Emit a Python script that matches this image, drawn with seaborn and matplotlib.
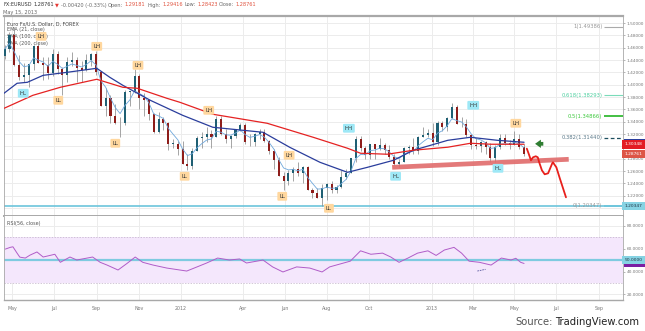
import matplotlib
matplotlib.use('Agg')
import matplotlib.pyplot as plt
import matplotlib.dates as mdates
from matplotlib.patches import Rectangle
import numpy as np
import pandas as pd
import seaborn as sns

W, H = 645, 331

# ---------------- data (weekly OHLC) ----------------
wk_open = [1.4470, 1.4580, 1.4806, 1.4318, 1.4125, 1.4155, 1.4335, 1.4635, 1.4345, 1.4315,
           1.4190, 1.4505, 1.4255, 1.4150, 1.4360, 1.4395, 1.4275, 1.4245, 1.4395, 1.4490,
           1.4205, 1.3655, 1.3790, 1.3500, 1.3385, 1.3375, 1.3875, 1.3890, 1.4140, 1.3790,
           1.3745, 1.3525, 1.3240, 1.3445, 1.3385, 1.3045, 1.3045, 1.2960, 1.2720, 1.2680,
           1.2930, 1.3130, 1.3155, 1.3195, 1.3150, 1.3450, 1.3200, 1.3120, 1.3175, 1.3270,
           1.3345, 1.3070, 1.3075, 1.3195, 1.3235, 1.3085, 1.2920, 1.2780, 1.2515, 1.2435,
           1.2570, 1.2640, 1.2570, 1.2665, 1.2290, 1.2245, 1.2160, 1.2320, 1.2385, 1.2290,
           1.2335, 1.2510, 1.2575, 1.2815, 1.3125, 1.2975, 1.2860, 1.3040, 1.2955, 1.3020,
           1.2940, 1.2830, 1.2710, 1.2750, 1.2975, 1.2985, 1.2925, 1.3160, 1.3180, 1.3220,
           1.3070, 1.3385, 1.3315, 1.3460, 1.3640, 1.3365, 1.3360, 1.3190, 1.3020, 1.3000,
           1.3075, 1.2985, 1.2820, 1.2995, 1.3130, 1.3055, 1.3030, 1.3115, 1.2995]
wk_high = [1.4650, 1.4860, 1.4940, 1.4475, 1.4345, 1.4335, 1.4640, 1.4695, 1.4450, 1.4450,
           1.4580, 1.4550, 1.4280, 1.4450, 1.4530, 1.4450, 1.4390, 1.4495, 1.4520, 1.4550,
           1.4215, 1.3950, 1.3830, 1.3690, 1.3480, 1.3915, 1.3890, 1.4247, 1.4170, 1.3870,
           1.3760, 1.3540, 1.3550, 1.3480, 1.3395, 1.3120, 1.3080, 1.3080, 1.2880, 1.2980,
           1.3170, 1.3235, 1.3320, 1.3270, 1.3487, 1.3485, 1.3290, 1.3180, 1.3290, 1.3385,
           1.3380, 1.3205, 1.3220, 1.3280, 1.3280, 1.3105, 1.2950, 1.2825, 1.2590, 1.2625,
           1.2670, 1.2747, 1.2690, 1.2690, 1.2320, 1.2330, 1.2390, 1.2405, 1.2440, 1.2380,
           1.2625, 1.2635, 1.2820, 1.3170, 1.3172, 1.3010, 1.3040, 1.3045, 1.3140, 1.3050,
           1.3015, 1.2880, 1.2790, 1.2985, 1.3015, 1.3130, 1.3165, 1.3308, 1.3280, 1.3385,
           1.3405, 1.3405, 1.3480, 1.3711, 1.3665, 1.3470, 1.3445, 1.3205, 1.3135, 1.3080,
           1.3090, 1.3050, 1.3015, 1.3205, 1.3202, 1.3110, 1.3242, 1.3195, 1.3035]
wk_low = [1.4420, 1.4530, 1.4310, 1.4080, 1.4050, 1.3968, 1.4232, 1.4345, 1.4070, 1.4100,
          1.4135, 1.4180, 1.3837, 1.4050, 1.4300, 1.4050, 1.4050, 1.4230, 1.4300, 1.4155,
          1.3650, 1.3495, 1.3385, 1.3360, 1.3145, 1.3350, 1.3655, 1.3860, 1.3610, 1.3485,
          1.3420, 1.3210, 1.3210, 1.3260, 1.2945, 1.2980, 1.2858, 1.2710, 1.2624, 1.2640,
          1.2925, 1.2975, 1.3065, 1.2975, 1.3145, 1.3180, 1.3050, 1.2975, 1.3140, 1.3250,
          1.3035, 1.3000, 1.3000, 1.3120, 1.3075, 1.2870, 1.2640, 1.2515, 1.2288, 1.2380,
          1.2440, 1.2520, 1.2405, 1.2290, 1.2160, 1.2160, 1.2042, 1.2135, 1.2250, 1.2240,
          1.2320, 1.2475, 1.2565, 1.2755, 1.2925, 1.2800, 1.2800, 1.2800, 1.2945, 1.2880,
          1.2800, 1.2700, 1.2661, 1.2745, 1.2880, 1.2875, 1.2880, 1.3145, 1.3155, 1.3000,
          1.3020, 1.3255, 1.3255, 1.3450, 1.3355, 1.3310, 1.3145, 1.2965, 1.2955, 1.2910,
          1.2880, 1.2750, 1.2745, 1.2955, 1.3015, 1.2955, 1.3025, 1.2955, 1.2842]
wk_close = [1.4580, 1.4806, 1.4318, 1.4125, 1.4155, 1.4335, 1.4635, 1.4345, 1.4315, 1.4190,
            1.4505, 1.4255, 1.4150, 1.4360, 1.4395, 1.4275, 1.4245, 1.4395, 1.4490, 1.4205,
            1.3655, 1.3790, 1.3500, 1.3385, 1.3375, 1.3875, 1.3890, 1.4140, 1.3790, 1.3745,
            1.3525, 1.3240, 1.3445, 1.3385, 1.3045, 1.3045, 1.2960, 1.2720, 1.2680, 1.2930,
            1.3130, 1.3155, 1.3195, 1.3150, 1.3450, 1.3200, 1.3120, 1.3175, 1.3270, 1.3345,
            1.3070, 1.3075, 1.3195, 1.3235, 1.3085, 1.2920, 1.2780, 1.2515, 1.2435, 1.2570,
            1.2640, 1.2570, 1.2665, 1.2290, 1.2245, 1.2160, 1.2320, 1.2385, 1.2290, 1.2335,
            1.2510, 1.2575, 1.2815, 1.3125, 1.2975, 1.2860, 1.3040, 1.2955, 1.3020, 1.2940,
            1.2830, 1.2710, 1.2750, 1.2975, 1.2985, 1.2925, 1.3160, 1.3180, 1.3220, 1.3070,
            1.3385, 1.3315, 1.3460, 1.3640, 1.3365, 1.3360, 1.3190, 1.3020, 1.3000, 1.3075,
            1.2985, 1.2820, 1.2995, 1.3130, 1.3055, 1.3030, 1.3115, 1.2995, 1.28761]

sma200_dates = ['2011-04-19', '2011-05-31', '2011-07-10', '2011-09-01', '2011-10-09', '2011-10-30',
                '2011-12-12', '2011-12-31', '2012-02-17', '2012-05-06', '2012-07-12', '2012-08-31',
                '2012-09-19', '2012-10-28', '2012-12-05', '2013-01-24', '2013-02-26', '2013-03-28',
                '2013-05-15']
sma200_vals = [1.3617, 1.3828, 1.3958, 1.4088, 1.3958, 1.3942, 1.3780, 1.3715, 1.3521, 1.3375,
               1.3148, 1.2970, 1.2889, 1.2873, 1.2938, 1.2987, 1.3051, 1.3035, 1.3035]

sma100_dates = ['2011-04-19', '2011-05-08', '2011-05-23', '2011-06-15', '2011-07-20', '2011-09-01',
                '2011-09-20', '2011-10-09', '2011-11-18', '2012-01-04', '2012-02-17', '2012-04-30',
                '2012-06-08', '2012-07-22', '2012-08-31', '2012-09-29', '2012-11-06', '2012-12-05',
                '2013-01-24', '2013-02-26', '2013-04-06', '2013-05-15']
sma100_vals = [1.3861, 1.4023, 1.4039, 1.4152, 1.4201, 1.4266, 1.4120, 1.3990, 1.3747, 1.3504,
               1.3310, 1.3229, 1.2985, 1.2742, 1.2580, 1.2661, 1.2775, 1.2938, 1.3099, 1.3148,
               1.3099, 1.3067]

rsi_dates = ['2011-04-21', '2011-04-28', '2011-05-02', '2011-05-08', '2011-05-12', '2011-05-20',
             '2011-05-27', '2011-06-06', '2011-06-15', '2011-06-25', '2011-07-02', '2011-07-10',
             '2011-07-24', '2011-08-03', '2011-08-26', '2011-09-06', '2011-09-16', '2011-10-02',
             '2011-10-15', '2011-10-27', '2011-11-07', '2011-11-22', '2011-12-12', '2011-12-31',
             '2012-01-10', '2012-01-25', '2012-02-08', '2012-02-24', '2012-03-12', '2012-03-27',
             '2012-04-06', '2012-04-30', '2012-05-14', '2012-05-29', '2012-06-18', '2012-07-07',
             '2012-07-25', '2012-08-05', '2012-08-20', '2012-09-04', '2012-09-19', '2012-10-04',
             '2012-10-21', '2012-11-02', '2012-11-14', '2012-11-27', '2012-12-11', '2012-12-26',
             '2013-01-07', '2013-01-19', '2013-02-02', '2013-02-13', '2013-02-24', '2013-03-11',
             '2013-03-28', '2013-04-12', '2013-04-26', '2013-05-03', '2013-05-10', '2013-05-15']
rsi_vals = [59.5, 61.0, 61.5, 56.0, 52.5, 51.7, 54.3, 57.0, 52.6, 54.0, 55.0, 48.0,
            52.6, 50.0, 52.6, 48.0, 45.6, 41.3, 47.0, 52.6, 48.0, 45.6, 43.0, 41.3,
            40.4, 44.0, 47.4, 51.7, 50.0, 50.9, 47.4, 50.0, 44.0, 39.6, 44.0, 43.0,
            39.6, 44.0, 46.5, 49.0, 58.0, 55.0, 56.0, 52.6, 48.0, 51.7, 56.0, 58.0,
            54.0, 58.7, 61.0, 56.0, 49.0, 48.0, 45.6, 51.7, 50.0, 51.5, 48.0, 47.0]
rsi_mark_dates = ['2013-03-08', '2013-03-20']
rsi_mark_vals = [40.4, 41.9]

pivot_text = ['LH', 'HL', 'LL', 'LH', 'LH', 'LL', 'LH', 'LL', 'HH', 'LH', 'LL', 'LL', 'HL', 'HH', 'LH', 'HL']
pivot_dates = ['2011-06-12', '2011-05-17', '2011-07-07', '2011-09-01', '2011-10-31', '2011-09-28',
               '2012-02-11', '2012-01-07', '2012-09-02', '2012-06-07', '2012-05-28', '2012-08-04',
               '2012-11-09', '2013-03-02', '2013-05-03', '2013-04-07']
pivot_prices = [1.4784, 1.3861, 1.3747, 1.4622, 1.4314, 1.3051, 1.3585, 1.2516, 1.3294, 1.2856,
                1.2191, 1.1997, 1.2516, 1.3666, 1.3375, 1.2645]

fib_names = ['1(1.49386)', '0.618(1.38293)', '0.5(1.34866)', '0.382(1.31440)', '0(1.20347)']
fib_levels = [1.49386, 1.38293, 1.34866, 1.31440, 1.20347]

support_dates = ['2012-11-04', '2013-07-19']
support_prices = [1.2661, 1.2791]

proj_dates = ['2013-05-19', '2013-05-22', '2013-05-25', '2013-05-28', '2013-06-01', '2013-06-04',
              '2013-06-06', '2013-06-10', '2013-06-14', '2013-06-19', '2013-06-25', '2013-06-26',
              '2013-07-01', '2013-07-06', '2013-07-15']
proj_prices = [1.2964, 1.2872, 1.2775, 1.2823, 1.2840, 1.2823, 1.2742, 1.2612, 1.2548, 1.2564,
               1.2726, 1.2742, 1.2661, 1.2483, 1.2175]

arrow_dates = ['2013-06-12', '2013-05-31']
arrow_price = 1.3042

month_ticks = ['2011-05-01', '2011-07-01', '2011-09-01', '2011-11-01', '2012-01-01', '2012-04-01',
               '2012-06-01', '2012-08-01', '2012-10-01', '2013-01-01', '2013-03-01', '2013-05-01',
               '2013-07-01', '2013-09-01']
month_labels = ['May', 'Jul', 'Sep', 'Nov', '2012', 'Apr', 'Jun', 'Aug', 'Oct', '2013', 'Mar', 'May',
                'Jul', 'Sep']

# ---------------- style ----------------
sns.set_style('white')
plt.rcParams['font.family'] = ['DejaVu Sans']

def dn(lst):
    return mdates.date2num(pd.to_datetime(lst))

fig = plt.figure(figsize=(W / 100, H / 100), dpi=100)
fig.patch.set_facecolor('white')

def fx(p):
    return p / W

def fy(p):
    return 1 - p / H

L, R = 4, 623
ax = fig.add_axes([fx(L), fy(216), fx(R) - fx(L), fy(15.5) - fy(216)])
ax2 = fig.add_axes([fx(L), fy(300), fx(R) - fx(L), fy(216) - fy(300)], sharex=ax)

xmin, xmax = dn(['2011-04-19'])[0], dn(['2013-10-06'])[0]
ax.set_xlim(xmin, xmax)
ax.set_ylim(1.18720, 1.51216)
ax2.set_ylim(15.2, 88.3)

grid_c = '#ececec'
tnum = dn(month_ticks)
for a in (ax, ax2):
    a.set_xticks(tnum)
    a.set_axisbelow(True)
    a.grid(True, axis='x', color=grid_c, lw=0.7)
    a.set_facecolor('white')
ax.tick_params(axis='x', labelbottom=False, length=0)
ax2.set_xticklabels(month_labels)
ax2.tick_params(axis='x', labelsize=3.4, labelcolor='#777', length=0, pad=4)

price_ticks = np.round(np.arange(1.20, 1.5001, 0.02), 2)
ax.yaxis.tick_right()
ax.set_yticks(price_ticks)
ax.set_yticklabels([f'{v:.5f}' for v in price_ticks])
ax.tick_params(axis='y', labelsize=3.1, labelcolor='#777', length=1.5, width=0.5, color='#999', pad=1)
ax.grid(True, axis='y', color=grid_c, lw=0.7)

ax2.yaxis.tick_right()
rt = [20, 40, 60, 80]
ax2.set_yticks(rt)
ax2.set_yticklabels([f'{v:.4f}' for v in rt])
ax2.tick_params(axis='y', labelsize=3.1, labelcolor='#777', length=1.5, width=0.5, color='#999', pad=1)
ax2.grid(True, axis='y', color=grid_c, lw=0.7)

for a in (ax, ax2):
    for s in a.spines.values():
        s.set_color('#a8a8a8')
        s.set_linewidth(0.6)
ax.spines['top'].set_linewidth(1.6)
ax.spines['bottom'].set_linewidth(1.4)
ax2.spines['top'].set_visible(False)
ax2.spines['bottom'].set_linewidth(1.0)

# ---------------- candles ----------------
fridays = pd.date_range('2011-04-22', periods=len(wk_close), freq='W-FRI')
centers = mdates.date2num(fridays - pd.Timedelta(days=2))
o = np.array(wk_open); h = np.array(wk_high); lo = np.array(wk_low); c = np.array(wk_close)
up = c >= o
ax.vlines(centers, lo, h, color='#8d8d8d', lw=0.55, zorder=3)
body_h = np.maximum(np.abs(c - o), 0.0008)
ax.bar(centers, body_h, bottom=np.minimum(o, c), width=3.0,
       color=np.where(up, '#1f5f73', '#8e1d1a'), edgecolor='none', zorder=4)

# moving averages
ema21 = pd.Series(c).ewm(span=21 / 5, adjust=False).mean().values
sns.lineplot(x=centers, y=ema21, ax=ax, color='#6fa8dc', lw=0.6, zorder=5)
sns.lineplot(x=dn(sma100_dates), y=sma100_vals, ax=ax, color='#2a3d9c', lw=0.9, zorder=5)
sns.lineplot(x=dn(sma200_dates), y=sma200_vals, ax=ax, color='#e52222', lw=0.9, zorder=5)

# fib 0 line (full width)
ax.axhline(fib_levels[4], color='#6cc5dc', lw=1.2, zorder=2)

# fib labels and segments
seg_x0 = dn(['2013-09-08'])[0]
lab_x = dn(['2013-09-06'])[0]
fib_txt_c = ['#999999', '#4ccf9f', '#3cc83c', '#5c7a8a', '#999999']
fib_line_c = ['#aaaaaa', '#7adbb9', '#22b422', '#1d4e5e', '#6cc5dc']
fib_lw = [0.8, 0.8, 1.2, 0.9, 1.2]
for i, (nm, lv) in enumerate(zip(fib_names, fib_levels)):
    ls = (0, (3, 2)) if i == 3 else '-'
    ax.plot([seg_x0, xmax], [lv, lv], color=fib_line_c[i], lw=fib_lw[i], ls=ls, zorder=3,
            solid_capstyle='butt')
    ax.text(lab_x, lv, nm, fontsize=3.8, color=fib_txt_c[i], ha='right', va='center', zorder=6)

# support band and projected path
ax.plot(dn(support_dates), support_prices, color='#e06a6a', lw=3.4, alpha=0.9,
        solid_capstyle='butt', zorder=6)
ax.plot(dn(proj_dates), proj_prices, color='#e8201c', lw=1.3, zorder=7)

# green arrow
ad = dn(arrow_dates)
ax.annotate('', xy=(ad[1], arrow_price), xytext=(ad[0], arrow_price),
            arrowprops=dict(arrowstyle='simple,head_width=1.0,head_length=0.7,tail_width=0.45',
                            mutation_scale=6, fc='#2f7d32', ec='none', shrinkA=0, shrinkB=0),
            zorder=7)

# pivot labels
pd_num = dn(pivot_dates)
for t, x, y in zip(pivot_text, pd_num, pivot_prices):
    fc = '#ffd79e' if t in ('LH', 'LL') else '#9ee8f6'
    ax.text(x, y, t, fontsize=3.9, color='#333', ha='center', va='center', zorder=9,
            bbox=dict(boxstyle='round,pad=0.35,rounding_size=0.2', fc=fc, ec='none'))

# value boxes on the price axis
def vstrip(a, y0_px, h_px, fc):
    a.add_patch(Rectangle((fx(R + 1), fy(y0_px + h_px)), fx(W) - fx(R + 1), h_px / H,
                          transform=fig.transFigure, fc=fc, ec='none', zorder=19, clip_on=False))

def vbox(a, val, txt, fc, tc):
    a.text(1.003, val, txt, transform=a.get_yaxis_transform(), fontsize=3.2, color=tc,
           ha='left', va='center', zorder=20, clip_on=False,
           bbox=dict(boxstyle='square,pad=0.55', fc=fc, ec='none'))

vstrip(ax, 138.5, 3.5, '#2a3d9c')
vbox(ax, 1.30348, '1.30348', '#e31b23', 'white')
vbox(ax, 1.28761, '1.28761', '#dd5546', 'white')
vbox(ax, 1.20347, '1.20347', '#86d3e3', '#234')

# ---------------- RSI ----------------
ax2.axhspan(30, 70, color='#f4e7fc', zorder=0.6, lw=0)
for lv in (30, 70):
    ax2.axhline(lv, color='#c0b0c8', lw=0.5, ls=(0, (2, 2)), zorder=1)
ax2.axhline(50, color='#7ecbe0', lw=1.6, zorder=2)
sns.lineplot(x=dn(rsi_dates), y=rsi_vals, ax=ax2, color='#b05cc8', lw=0.7, zorder=4)
ax2.plot(dn(rsi_mark_dates), rsi_mark_vals, color='#5a5aa0', lw=0.6, ls=(0, (2, 1)), zorder=4)
vstrip(ax2, 262.5, 4.0, '#7b1fa2')
vbox(ax2, 50.0, '50.0000', '#86d3e3', '#234')

for a in (ax, ax2):
    a.set_xlabel('')
    a.set_ylabel('')
ax.set_xlim(xmin, xmax)

# ---------------- texts ----------------
renderer = fig.canvas.get_renderer()

def measure(s, size):
    t = fig.text(0, 0, s, fontsize=size)
    w = t.get_window_extent(renderer).width
    t.remove()
    return w

def seq_text(x_px, y_px, pieces, fit_n=None, width_px=None, size=None, target=fig, zorder=3):
    if size is None:
        sub = pieces[:fit_n] if fit_n else pieces
        gap10 = measure('x x', 10) - measure('xx', 10)
        tot = sum(measure(s, 10) for s, _ in sub) + gap10 * (len(sub) - 1)
        size = 10 * width_px / tot
    gap = measure('x x', size) - measure('xx', size)
    x = x_px
    for s, col in pieces:
        if target is fig:
            t = fig.text(fx(x), fy(y_px), s, fontsize=size, color=col, va='center', ha='left',
                         zorder=zorder)
        else:
            t = target.text(fx(x), fy(y_px), s, fontsize=size, color=col, va='center', ha='left',
                            transform=fig.transFigure, zorder=zorder, clip_on=False)
        x += t.get_window_extent(renderer).width + gap
    return size

hdr = [('FX:EURUSD', '#333'), ('1.28761', '#333'), ('▼', '#e53935'), ('-0.00420 (-0.33%)', '#666'),
       ('Open:', '#666'), ('1.29181', '#e0533f'), ('High:', '#666'), ('1.29416', '#e0533f'),
       ('Low:', '#666'), ('1.28423', '#e0533f'), ('Close:', '#666'), ('1.28761', '#e0533f')]
hs = seq_text(3, 5, hdr, fit_n=10, width_px=215)
seq_text(3, 12.5, [('May 15, 2013', '#666')], size=hs)

ls_ = seq_text(7, 23.7, [('Euro Fx/U.S. Dollar, D, FOREX', '#444')], width_px=72, target=ax, zorder=1)
seq_text(7, 30, [('EMA (21, close)', '#555')], size=ls_, target=ax, zorder=1)
seq_text(7, 36.5, [('SMA (100, close)', '#555')], size=ls_, target=ax, zorder=1)
seq_text(7, 43, [('SMA (200, close)', '#555')], size=ls_, target=ax, zorder=1)
seq_text(7, 223, [('RSI(56, close)', '#555')], size=ls_, target=ax2, zorder=5)

seq_text(515, 322, [('Source:', '#555'), ('TradingView.com', '#222')], width_px=125)

fig.savefig('out.png', dpi=100, facecolor='white')
